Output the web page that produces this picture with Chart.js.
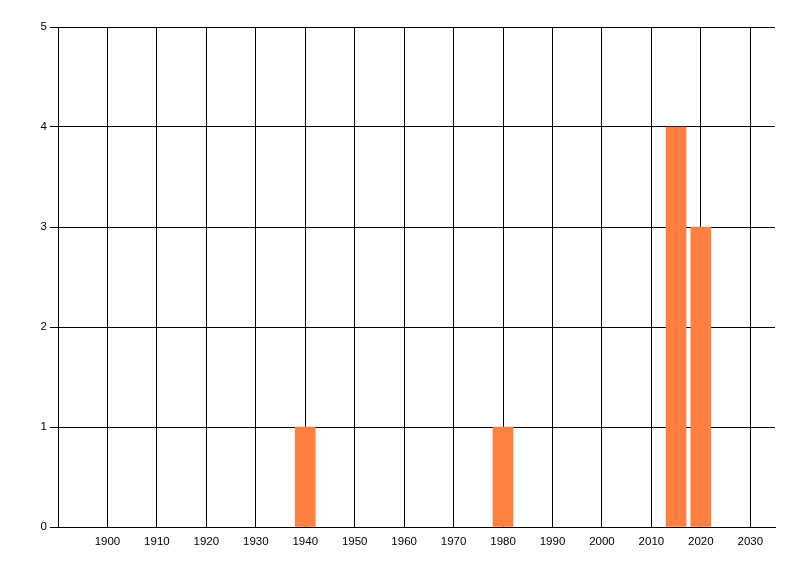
<!DOCTYPE html>
<html>
<head>
<meta charset="utf-8">
<script src="https://cdn.jsdelivr.net/npm/chart.js@4/dist/chart.umd.min.js"></script>
<style>
html,body{margin:0;padding:0;background:#fff;}
canvas{display:block;}
</style>
</head>
<body>
<canvas id="c" width="800" height="576"></canvas>
<script>
// Data
const years = [1940, 1980, 2015, 2020];
const counts = [1, 1, 4, 3];
const xTickLabels = [1900, 1910, 1920, 1930, 1940, 1950, 1960, 1970, 1980, 1990, 2000, 2010, 2020, 2030];
const yTickLabels = [0, 1, 2, 3, 4, 5];
const xMin = 1890, xMax = 2035;

const tickFont = { family: "'Liberation Sans', Arial, sans-serif", size: 11.5 };

new Chart(document.getElementById('c'), {
  type: 'bar',
  data: {
    datasets: [{
      data: years.map((x, i) => ({ x: x, y: counts[i] })),
      backgroundColor: '#FF8040',
      borderWidth: 0,
      barThickness: 20
    }]
  },
  options: {
    responsive: false,
    animation: false,
    layout: { padding: { left: 0, right: 25, top: 27, bottom: 0 } },
    plugins: { legend: { display: false }, tooltip: { enabled: false } },
    scales: {
      x: {
        type: 'linear',
        min: xMin,
        max: xMax,
        offset: false,
        afterBuildTicks: s => { s.ticks = xTickLabels.map(v => ({ value: v })); },
        afterFit: s => { s.height = 49; },
        grid: { color: '#000', lineWidth: 1, drawTicks: false, offset: false },
        border: { color: '#000', width: 1 },
        ticks: { color: '#000', font: tickFont, padding: 8, maxRotation: 0, autoSkip: false, callback: v => String(v) }
      },
      y: {
        min: 0,
        max: 5,
        afterBuildTicks: s => { s.ticks = yTickLabels.map(v => ({ value: v })); },
        afterFit: s => { s.width = 58; },
        grid: { color: '#000', lineWidth: 1, drawTicks: true, tickLength: 8 },
        border: { color: '#000', width: 1 },
        ticks: { color: '#000', font: tickFont, padding: 3, callback: v => String(v) }
      }
    }
  }
});
</script>
</body>
</html>
